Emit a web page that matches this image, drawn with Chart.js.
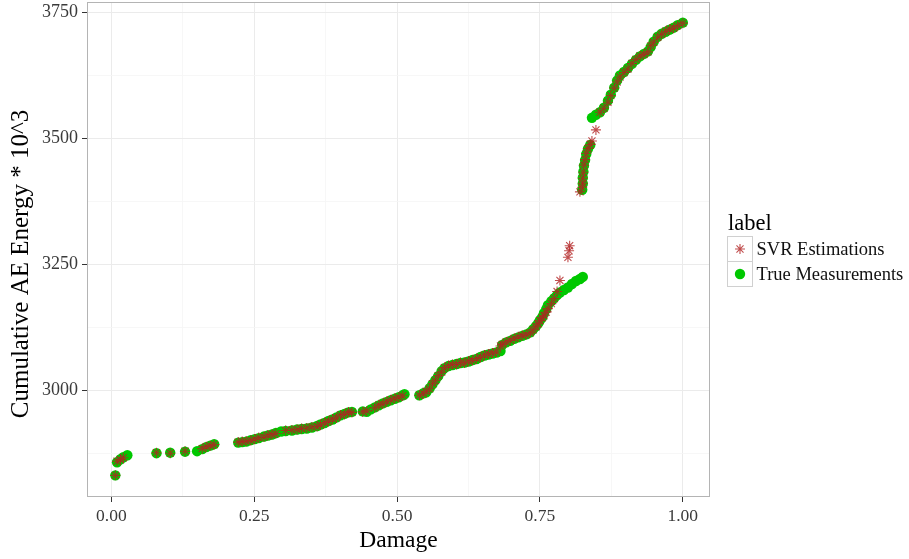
<!DOCTYPE html>
<html>
<head>
<meta charset="utf-8">
<title>Cumulative AE Energy vs Damage</title>
<script src="https://cdn.jsdelivr.net/npm/chart.js@4.4.1/dist/chart.umd.min.js"></script>
<style>
  html, body { margin: 0; padding: 0; background: #ffffff; }
  #wrap { width: 909px; height: 559px; }
</style>
</head>
<body>
<div id="wrap"><canvas id="chart" width="909" height="559"></canvas></div>
<script>
// Damage level of each sample (shared by both series)
const damage = [
  0.007, 0.010, 0.016, 0.021, 0.028, 0.079, 0.103, 0.129, 0.150, 0.159,
  0.166, 0.173, 0.180, 0.222, 0.229, 0.236, 0.244, 0.251, 0.258, 0.267,
  0.274, 0.281, 0.288, 0.297, 0.305, 0.316, 0.325, 0.333, 0.342, 0.351,
  0.360, 0.366, 0.373, 0.380, 0.387, 0.394, 0.401, 0.408, 0.415, 0.421,
  0.440, 0.447, 0.454, 0.461, 0.468, 0.475, 0.482, 0.489, 0.496, 0.503,
  0.510, 0.513, 0.539, 0.546, 0.551, 0.557, 0.562, 0.567, 0.572, 0.578,
  0.583, 0.590, 0.597, 0.604, 0.611, 0.618, 0.625, 0.632, 0.639, 0.646,
  0.653, 0.660, 0.667, 0.674, 0.681, 0.684, 0.691, 0.698, 0.705, 0.712,
  0.719, 0.726, 0.733, 0.738, 0.743, 0.747, 0.750, 0.754, 0.757, 0.761,
  0.764, 0.770, 0.775, 0.780, 0.785, 0.792, 0.799, 0.801, 0.802, 0.806,
  0.813, 0.820, 0.825, 0.824, 0.825, 0.825, 0.826, 0.827, 0.829, 0.831,
  0.834, 0.838, 0.841, 0.848, 0.855, 0.862, 0.869, 0.874, 0.880, 0.885,
  0.890, 0.897, 0.904, 0.911, 0.918, 0.925, 0.932, 0.939, 0.944, 0.949,
  0.956, 0.963, 0.970, 0.977, 0.984, 0.991, 1.000
];

// Measured cumulative AE energy (x 10^3); null = no measurement at that damage
const trueEnergy = [
  2831, 2857, 2863, 2867, 2871, 2875, 2876, 2878, 2879, 2883,
  2887, 2890, 2893, 2896, 2897, 2898, 2901, 2903, 2905, 2908,
  2910, 2912, 2915, 2918, 2919, 2920, 2922, 2923, 2924, 2926,
  2929, 2932, 2935, 2939, 2942, 2946, 2950, 2953, 2956, 2957,
  2958, 2957, 2962, 2966, 2970, 2974, 2977, 2980, 2983, 2986,
  2990, 2992, 2990, 2994, 2996, 3004, 3012, 3020, 3028, 3038,
  3044, 3048, 3050, 3052, 3054, 3055, 3057, 3060, 3062, 3066,
  3069, 3071, 3073, 3075, 3078, 3090, 3095, 3098, 3102, 3105,
  3108, 3111, 3115, 3121, 3127, 3133, 3139, 3145, 3153, 3161,
  3169, 3177, 3183, 3189, 3194, 3199, 3204, null, null, 3211,
  3217, 3221, 3225, 3398, 3410, 3422, 3434, 3446, 3457, 3469,
  3479, 3487, 3541, 3547, 3552, 3561, 3575, 3587, 3601, 3615,
  3625, 3632, 3640, 3648, 3656, 3663, 3668, 3673, 3682, 3692,
  3702, 3708, 3712, 3716, 3720, 3725, 3730
];

// SVR estimated cumulative AE energy (x 10^3); null = no estimate at that damage
const svrEnergy = [
  2831, 2859, 2862, 2866, null, 2876, 2875, 2879, null, 2884,
  2888, 2890, 2892, 2897, 2898, 2899, 2900, 2903, 2906, 2907,
  2911, 2912, 2914, null, 2920, 2921, 2922, 2924, 2925, 2927,
  2928, 2931, 2936, 2938, 2943, 2945, 2951, 2952, 2957, 2956,
  2957, 2959, null, 2965, 2971, 2973, 2978, 2981, 2984, 2986,
  2989, null, 2990, 2993, 2998, 3003, 3013, 3019, 3029, 3036,
  3045, 3049, 3051, 3051, 3055, 3054, 3058, 3059, 3063, 3065,
  3070, 3072, 3074, 3076, 3088, 3091, 3096, 3099, 3103, 3106,
  3109, 3110, 3114, 3120, 3126, 3132, 3138, 3144, 3148, 3155,
  3162, 3172, 3182, 3196, 3218, null, 3264, 3277, 3287, null,
  null, 3394, null, 3403, 3411, 3421, 3433, 3447, 3458, 3470,
  3480, 3488, 3495, 3517, 3552, 3560, 3572, 3585, 3600, 3612,
  3622, 3631, 3638, 3649, 3657, 3664, 3667, 3672, 3684, 3691,
  3701, 3707, 3713, 3717, 3719, 3724, 3729
];

// Labelled axis ticks
const xTickValues = [0, 0.25, 0.5, 0.75, 1.0];
const yTickValues = [3000, 3250, 3500, 3750];

// Series names shown in the legend, and axis titles
const seriesNames = ['SVR Estimations', 'True Measurements'];
const legendTitle = 'label';
const xTitle = 'Damage';
const yTitle = 'Cumulative AE Energy * 10^3';

const SERIF = '"Liberation Serif", "Times New Roman", "DejaVu Serif", serif';
const STAR_COLOR = 'rgba(178, 34, 34, 0.8)';
const DOT_COLOR = '#00c800';

// Major ticks plus the minor grid lines halfway between them
function withMinor(majors, lowExtra) {
  const out = [];
  const step = majors[1] - majors[0];
  if (lowExtra) out.push(majors[0] - step / 2);
  majors.forEach((v, i) => {
    out.push(v);
    if (i < majors.length - 1) out.push(v + step / 2);
  });
  return out;
}
const xGrid = withMinor(xTickValues, false);
const yGrid = withMinor(yTickValues, true);

const isMajor = (list, v) => list.some(m => Math.abs(m - v) < 1e-9);

function toPoints(ys) {
  return damage.map((d, i) => ({ x: d, y: ys[i] })).filter(p => p.y !== null);
}

const background = {
  id: 'background',
  beforeDraw(chart) {
    const ctx = chart.ctx;
    ctx.save();
    ctx.fillStyle = '#ffffff';
    ctx.fillRect(0, 0, chart.width, chart.height);
    ctx.restore();
  }
};

const panelBorder = {
  id: 'panelBorder',
  afterDatasetsDraw(chart) {
    const { ctx, chartArea: a } = chart;
    ctx.save();
    ctx.strokeStyle = '#b4b4b4';
    ctx.lineWidth = 1;
    ctx.strokeRect(a.left + 0.5, a.top + 0.5, a.right - a.left - 1, a.bottom - a.top - 1);
    ctx.restore();
  }
};

// Vertical axis title, set a little below the panel centre
const yAxisTitle = {
  id: 'yAxisTitle',
  afterDraw(chart) {
    const ctx = chart.ctx;
    ctx.save();
    ctx.translate(21, 264);
    ctx.rotate(-Math.PI / 2);
    ctx.fillStyle = '#000000';
    ctx.font = '25px ' + SERIF;
    ctx.textAlign = 'center';
    ctx.textBaseline = 'middle';
    ctx.fillText(yTitle, 0, 0);
    ctx.restore();
  }
};

function drawMarker(ctx, ds, cx, cy) {
  ctx.fillStyle = ds.backgroundColor;
  ctx.strokeStyle = ds.borderColor;
  ctx.lineWidth = ds.borderWidth;
  ctx.beginPath();
  if (ds.pointStyle === 'circle') {
    ctx.arc(cx, cy, ds.pointRadius, 0, Math.PI * 2);
    ctx.fill();
  } else {
    const r = ds.pointRadius;
    for (let k = 0; k < 4; k++) {
      const ang = k * Math.PI / 4;
      ctx.moveTo(cx - Math.cos(ang) * r, cy - Math.sin(ang) * r);
      ctx.lineTo(cx + Math.cos(ang) * r, cy + Math.sin(ang) * r);
    }
    ctx.stroke();
  }
}

const keyLegend = {
  id: 'keyLegend',
  afterDraw(chart) {
    const ctx = chart.ctx;
    const left = 727.5, top = 236.5, key = 25;
    ctx.save();
    ctx.fillStyle = '#000000';
    ctx.font = '22.5px ' + SERIF;
    ctx.textBaseline = 'alphabetic';
    ctx.textAlign = 'left';
    ctx.fillText(legendTitle, 728, 230);

    chart.data.datasets.forEach((ds, i) => {
      const y = top + i * key;
      ctx.fillStyle = '#ffffff';
      ctx.fillRect(left, y, key, key);
      ctx.strokeStyle = '#d0d0d0';
      ctx.lineWidth = 1;
      ctx.strokeRect(left, y, key, key);
      drawMarker(ctx, ds, left + key / 2, y + key / 2);
      ctx.fillStyle = '#111111';
      ctx.font = '18.5px ' + SERIF;
      ctx.textBaseline = 'middle';
      ctx.fillText(ds.label, left + key + 4, y + key / 2 + 1);
    });
    ctx.restore();
  }
};

new Chart(document.getElementById('chart'), {
  type: 'scatter',
  data: {
    datasets: [
      {
        label: seriesNames[0],
        data: toPoints(svrEnergy),
        pointStyle: 'star',
        pointRadius: 5,
        pointHoverRadius: 5,
        borderWidth: 1.1,
        borderColor: STAR_COLOR,
        backgroundColor: STAR_COLOR
      },
      {
        label: seriesNames[1],
        data: toPoints(trueEnergy),
        pointStyle: 'circle',
        pointRadius: 5.2,
        pointHoverRadius: 5.2,
        borderWidth: 0,
        borderColor: DOT_COLOR,
        backgroundColor: DOT_COLOR
      }
    ]
  },
  options: {
    responsive: false,
    animation: false,
    events: [],
    layout: { autoPadding: false, padding: { left: 0, right: 199, top: 2, bottom: 0 } },
    plugins: {
      legend: { display: false },
      tooltip: { enabled: false }
    },
    scales: {
      x: {
        type: 'linear',
        min: -0.0426,
        max: 1.0476,
        afterBuildTicks(scale) { scale.ticks = xGrid.map(v => ({ value: v })); },
        afterFit(scale) {
          scale.height = 62;
          scale.paddingLeft = 0;
          scale.paddingRight = 0;
        },
        border: { display: false },
        grid: {
          drawOnChartArea: true,
          drawTicks: true,
          tickLength: 5,
          color: ctx => isMajor(xTickValues, ctx.tick.value) ? '#ebebeb' : '#f5f5f5',
          lineWidth: ctx => isMajor(xTickValues, ctx.tick.value) ? 1 : 0.8,
          tickColor: ctx => isMajor(xTickValues, ctx.tick.value) ? '#333333' : 'rgba(0,0,0,0)',
          tickWidth: 1
        },
        ticks: {
          autoSkip: false,
          maxRotation: 0,
          padding: 4,
          color: '#3a3a3a',
          font: { family: SERIF, size: 17.5 },
          callback: v => isMajor(xTickValues, v) ? Number(v).toFixed(2) : ''
        },
        title: {
          display: true,
          text: xTitle,
          color: '#000000',
          font: { family: SERIF, size: 23.5 },
          padding: { top: 0, bottom: 4 }
        }
      },
      y: {
        type: 'linear',
        min: 2788,
        max: 3771,
        afterBuildTicks(scale) { scale.ticks = yGrid.map(v => ({ value: v })); },
        afterFit(scale) {
          scale.width = 87;
          scale.paddingTop = 0;
          scale.paddingBottom = 0;
        },
        border: { display: false },
        grid: {
          drawOnChartArea: true,
          drawTicks: true,
          tickLength: 5,
          color: ctx => isMajor(yTickValues, ctx.tick.value) ? '#ebebeb' : '#f5f5f5',
          lineWidth: ctx => isMajor(yTickValues, ctx.tick.value) ? 1 : 0.8,
          tickColor: ctx => isMajor(yTickValues, ctx.tick.value) ? '#333333' : 'rgba(0,0,0,0)',
          tickWidth: 1
        },
        ticks: {
          autoSkip: false,
          padding: 4,
          color: '#3a3a3a',
          font: { family: SERIF, size: 18 },
          callback: v => isMajor(yTickValues, v) ? String(v) : ''
        },
        title: { display: false }
      }
    }
  },
  plugins: [background, panelBorder, yAxisTitle, keyLegend]
});
</script>
</body>
</html>
